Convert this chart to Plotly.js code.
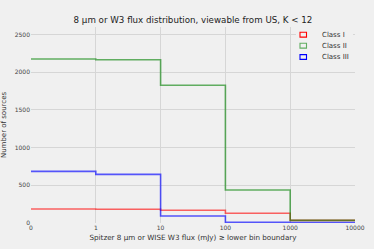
<!DOCTYPE html>
<html>
<head>
<meta charset="utf-8">
<script src="https://cdn.plot.ly/plotly-3.0.1.min.js"></script>
<style>html,body{margin:0;padding:0;background:#f0f0f0;}#chart{width:374px;height:249px;}</style>
</head>
<body>
<div id="chart"></div>
<script>
// Lower bin boundaries (mJy), equally spaced on the axis
const binLabels = ["0", "1", "10", "100", "1000", "10000"];
// Number of sources per bin (bins between consecutive boundaries)
const classI   = [185, 183, 170, 130, 35];
const classII  = [2175, 2165, 1828, 437, 35];
const classIII = [685, 645, 93, 8, 5];
const seriesNames = ["Class I", "Class II", "Class III"];
const seriesColors = ["rgba(255,0,0,0.6)", "rgba(0,128,0,0.6)", "rgba(0,0,255,0.65)"];
const legendColors = ["rgb(255,0,0)", "rgba(0,128,0,0.6)", "rgb(0,0,255)"];

const xPos = binLabels.map((_, i) => i);
function stepY(vals) { return vals.concat([vals[vals.length - 1]]); }

const allSeries = [classI, classII, classIII];
const traces = allSeries.map((vals, k) => ({
  type: "scatter", mode: "lines", x: xPos, y: stepY(vals), name: seriesNames[k],
  line: {shape: "hv", color: seriesColors[k], width: 1.6},
  showlegend: false, hoverinfo: "skip"
}));

// plot area in pixels (for placing the hand-made legend)
const M = {l: 31, r: 19, t: 27, b: 26};
const W = 374, H = 249;
const pw = W - M.l - M.r, ph = H - M.t - M.b;
const px = x => (x - M.l) / pw;
const py = y => (H - M.b - y) / ph;

const shapes = [{
  type: "rect", xref: "paper", yref: "paper", layer: "above",
  x0: px(296), x1: px(353), y0: py(63), y1: py(28),
  fillcolor: "#f0f0f0", line: {width: 0}
}];
const annotations = [];
const rowY = [34.7, 45.7, 57];
seriesNames.forEach((nm, k) => {
  shapes.push({
    type: "rect", xref: "paper", yref: "paper", layer: "above",
    x0: px(300), x1: px(306.5), y0: py(rowY[k] + 2.4), y1: py(rowY[k] - 2.4),
    fillcolor: "rgba(0,0,0,0)", line: {color: legendColors[k], width: 1.1}
  });
  annotations.push({
    xref: "paper", yref: "paper", x: px(320), y: py(rowY[k]),
    xanchor: "left", yanchor: "middle", showarrow: false,
    text: nm, font: {size: 7, color: "#333"}
  });
});

const layout = {
  width: W, height: H,
  paper_bgcolor: "#f0f0f0", plot_bgcolor: "#f0f0f0",
  margin: {l: M.l, r: M.r, t: M.t, b: M.b, pad: 0},
  font: {family: "DejaVu Sans", size: 6, color: "#444"},
  title: {text: "8 μm or W3 flux distribution, viewable from US, K < 12",
          font: {family: "DejaVu Sans", size: 8.7, color: "#222"},
          x: 0.516, xanchor: "center", y: 0.92, yanchor: "middle"},
  xaxis: {
    range: [0, 5], tickvals: xPos, ticktext: binLabels,
    showgrid: true, gridcolor: "#d6d6d6", gridwidth: 1,
    zeroline: false, showline: false, ticks: "", ticklen: 0,
    tickfont: {size: 6, color: "#444"},
    title: {text: "Spitzer 8 μm or WISE W3 flux (mJy) ≥ lower bin boundary",
            font: {size: 7.2, color: "#333"}, standoff: 4}
  },
  yaxis: {
    range: [0, 2600], tickvals: [0, 500, 1000, 1500, 2000, 2500],
    showgrid: true, gridcolor: "#d6d6d6", gridwidth: 1,
    zeroline: false, showline: false, ticks: "",
    tickfont: {size: 6, color: "#444"},
    title: {text: "Number of sources", font: {size: 7, color: "#333"}, standoff: 8}
  },
  shapes: shapes,
  annotations: annotations,
  showlegend: false
};

Plotly.newPlot("chart", traces, layout, {staticPlot: true, displayModeBar: false});
</script>
</body>
</html>
